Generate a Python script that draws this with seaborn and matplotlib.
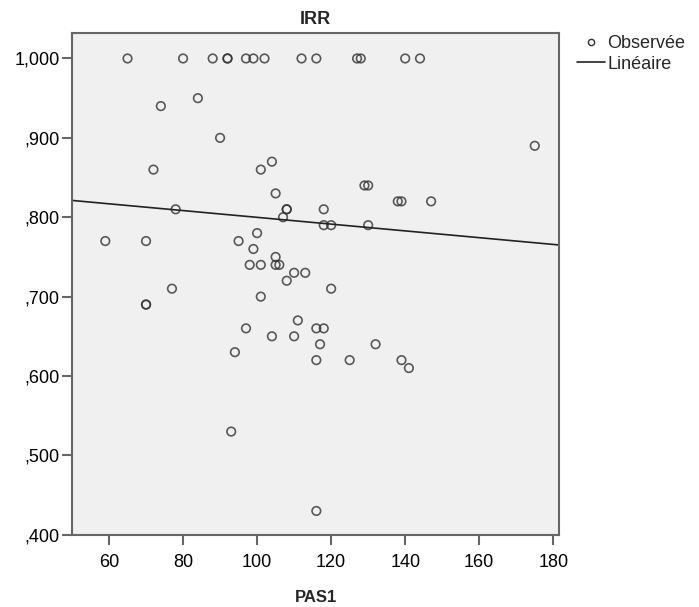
import matplotlib
matplotlib.use("Agg")
import matplotlib.pyplot as plt
from matplotlib.lines import Line2D
from matplotlib.ticker import FuncFormatter
import numpy as np
import pandas as pd
import seaborn as sns

sns.set_style("white")
plt.rcParams["font.family"] = ["Liberation Sans", "DejaVu Sans"]

# PAS1 (x) and IRR (y) observations
pas1 = [65, 80, 88, 92, 92, 97, 99, 102, 112, 116, 127, 128, 140, 144,
        74, 84, 90, 175, 72, 101, 104, 105, 129, 130, 138, 139, 147,
        78, 108, 108, 118, 107, 118, 120, 130, 59, 70, 95, 100, 99,
        98, 101, 105, 105, 106, 110, 113, 108, 77, 120, 101, 70, 70,
        97, 111, 104, 110, 94, 116, 118, 117, 116, 125, 93, 116, 132,
        139, 141]
irr = [1.00, 1.00, 1.00, 1.00, 1.00, 1.00, 1.00, 1.00, 1.00, 1.00, 1.00, 1.00, 1.00, 1.00,
       0.94, 0.95, 0.90, 0.89, 0.86, 0.86, 0.87, 0.83, 0.84, 0.84, 0.82, 0.82, 0.82,
       0.81, 0.81, 0.81, 0.81, 0.80, 0.79, 0.79, 0.79, 0.77, 0.77, 0.77, 0.78, 0.76,
       0.74, 0.74, 0.75, 0.74, 0.74, 0.73, 0.73, 0.72, 0.71, 0.71, 0.70, 0.69, 0.69,
       0.66, 0.67, 0.65, 0.65, 0.63, 0.66, 0.66, 0.64, 0.62, 0.62, 0.53, 0.43, 0.64,
       0.62, 0.61]

x_ticks = [60, 80, 100, 120, 140, 160, 180]
y_ticks = [0.4, 0.5, 0.6, 0.7, 0.8, 0.9, 1.0]

df = pd.DataFrame({"PAS1": pas1, "IRR": irr})

fig = plt.figure(figsize=(6.99, 6.07), dpi=100)
ax = fig.add_axes([0.103, 0.119, 0.697, 0.826])
ax.set_facecolor("#f0f0f0")
# limits first so the fitted line spans the full plotting area
ax.set_xlim(50, 181.6)
ax.set_ylim(0.4, 1.0316)

ink = "#333333"
sns.regplot(data=df, x="PAS1", y="IRR", ax=ax, ci=None, truncate=False,
            scatter_kws=dict(marker="o", s=38, facecolors="none",
                             edgecolors=ink, linewidths=1.2),
            line_kws=dict(color="#222222", lw=1.2))

ax.set_xlim(50, 181.6)
ax.set_ylim(0.4, 1.0316)
ax.set_xticks(x_ticks)
ax.set_yticks(y_ticks)
ax.yaxis.set_major_formatter(
    FuncFormatter(lambda v, p: f"{v:.3f}".replace(".", ",").lstrip("0")))

for s in ax.spines.values():
    s.set_color("#666666")
    s.set_linewidth(1.5)
ax.tick_params(axis="both", direction="out", length=7.5, width=1.5,
               color="#666666", labelsize=13, labelcolor="#000000")
ax.tick_params(axis="x", pad=6)
ax.tick_params(axis="y", pad=1.5)
ax.tick_params(top=False, right=False, left=True, bottom=True)

ax.set_xlabel("PAS1", fontsize=12, fontweight="bold", labelpad=14)
ax.set_ylabel("")
ax.set_title("IRR", fontsize=13, fontweight="bold", pad=7)

handles = [
    Line2D([], [], marker="o", linestyle="none", markerfacecolor="none",
           markeredgecolor=ink, markersize=4.5, markeredgewidth=1.0),
    Line2D([], [], color="#222222", lw=1.2),
]
fig.legend(handles, ["Observée", "Linéaire"], loc="upper left",
           bbox_to_anchor=(0.825, 0.942), frameon=False, fontsize=13,
           handlelength=1.55, handletextpad=0.15, labelspacing=0.2,
           borderaxespad=0, borderpad=0)

fig.savefig("out.png", dpi=100)
